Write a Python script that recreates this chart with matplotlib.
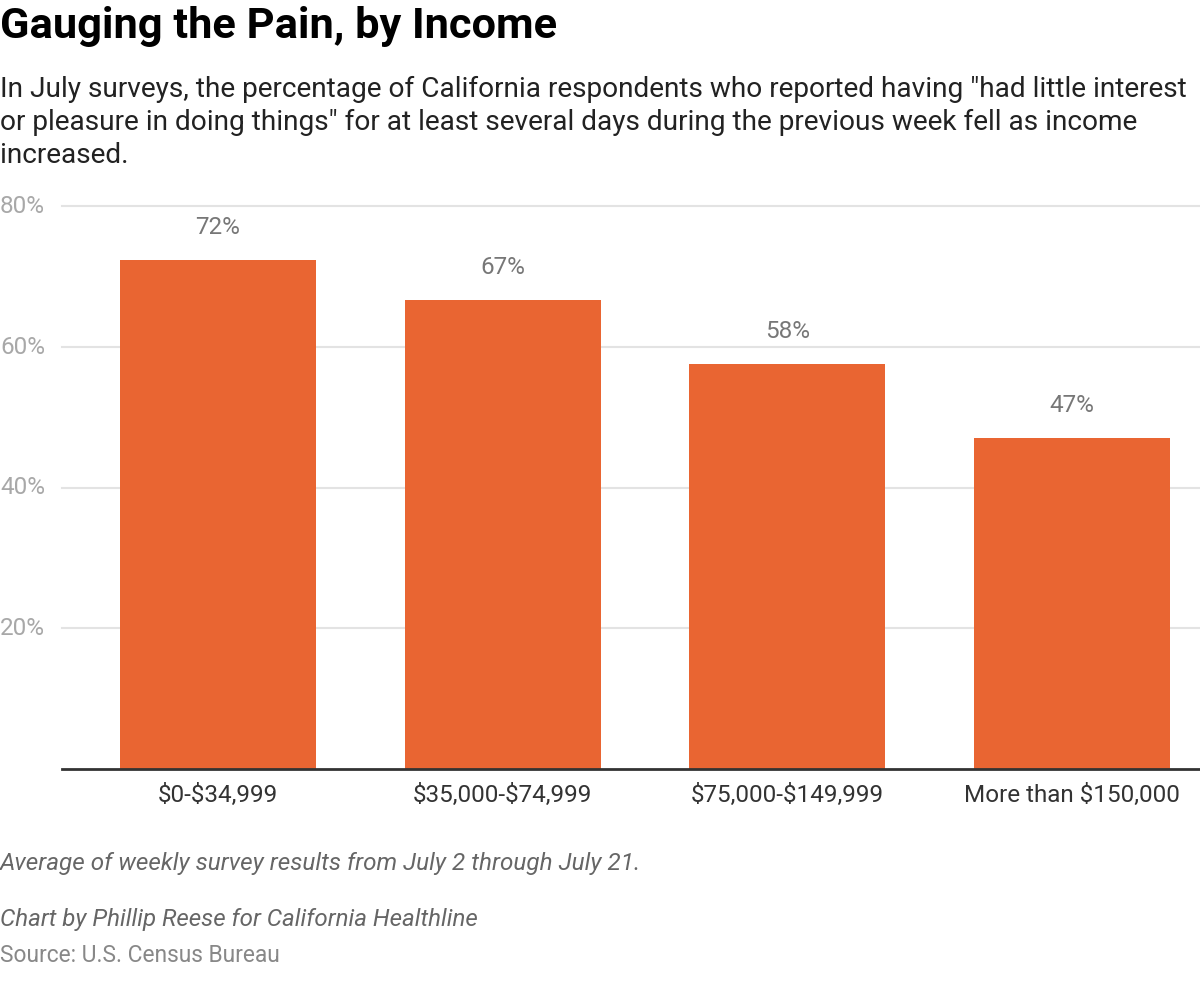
import matplotlib
matplotlib.use("Agg")
import matplotlib.pyplot as plt

plt.rcParams['font.family'] = ['Roboto', 'DejaVu Sans']

categories = ["\\$0-\\$34,999", "\\$35,000-\\$74,999", "\\$75,000-\\$149,999", "More than \\$150,000"]
values = [72.3, 66.6, 57.5, 47.0]
value_labels = ["72%", "67%", "58%", "47%"]
yticks = [20, 40, 60, 80]
ytick_labels = ["20%", "40%", "60%", "80%"]

title = "Gauging the Pain, by Income"
subtitle_lines = ['In July surveys, the percentage of California respondents who reported having "had little interest',
                  'or pleasure in doing things" for at least several days during the previous week fell as income',
                  'increased.']
note = "Average of weekly survey results from July 2 through July 21."
byline = "Chart by Phillip Reese for California Healthline"
source = "Source: U.S. Census Bureau"

bar_color = "#e96532"
H = 984.0

fig = plt.figure(figsize=(12, 9.84), dpi=100)
ax = fig.add_axes([62 / 1200, 1 - 769 / H, 1 - 62 / 1200, (769 - 206) / H])

x = list(range(len(categories)))
ax.bar(x, values, width=0.689, color=bar_color, zorder=2)
ax.set_xlim(-0.548, 3.45)
ax.set_ylim(0, 80)

# gridlines
for t in yticks:
    ax.axhline(t, color="#e3e3e3", lw=1.5, zorder=1, clip_on=False)
ax.axhline(0, color="#333333", lw=2, zorder=3, clip_on=False)

for s in ax.spines.values():
    s.set_visible(False)
ax.set_yticks([])
ax.set_xticks([])

# category labels under the baseline
for xi, lab in zip(x, categories):
    ax.annotate(lab, (xi, 0), xytext=(0, -23.8), textcoords="offset points",
                ha="center", va="baseline", fontsize=17.5, color="#333333")

# y tick labels at the figure's left edge
for t, lab in zip(yticks, ytick_labels):
    ax.annotate(lab, (0.0, t), xycoords=("figure fraction", "data"),
                xytext=(0, -5), textcoords="offset points",
                ha="left", va="baseline", fontsize=17.5, color="#a8a8a8")

# value labels
for xi, v, lab in zip(x, values, value_labels):
    ax.annotate(lab, (xi, v), xytext=(0, 19), textcoords="offset points",
                ha="center", va="baseline", fontsize=17.5, color="#777777")

fig.text(0.0, 1 - 38 / H, title, ha="left", va="baseline", fontsize=31.2,
         fontweight="bold", color="#000000")
for i, line in enumerate(subtitle_lines):
    fig.text(0.0, 1 - (97 + 33 * i) / H, line, ha="left", va="baseline",
             fontsize=20.2, color="#222222")
fig.text(0.0, 1 - 870 / H, note, ha="left", va="baseline", fontsize=17.5,
         style="italic", color="#666666")
fig.text(0.0, 1 - 926 / H, byline, ha="left", va="baseline", fontsize=17.4,
         style="italic", color="#666666")
fig.text(0.0, 1 - 962 / H, source, ha="left", va="baseline", fontsize=16.4,
         color="#888888")

fig.savefig("out.png", dpi=100)
